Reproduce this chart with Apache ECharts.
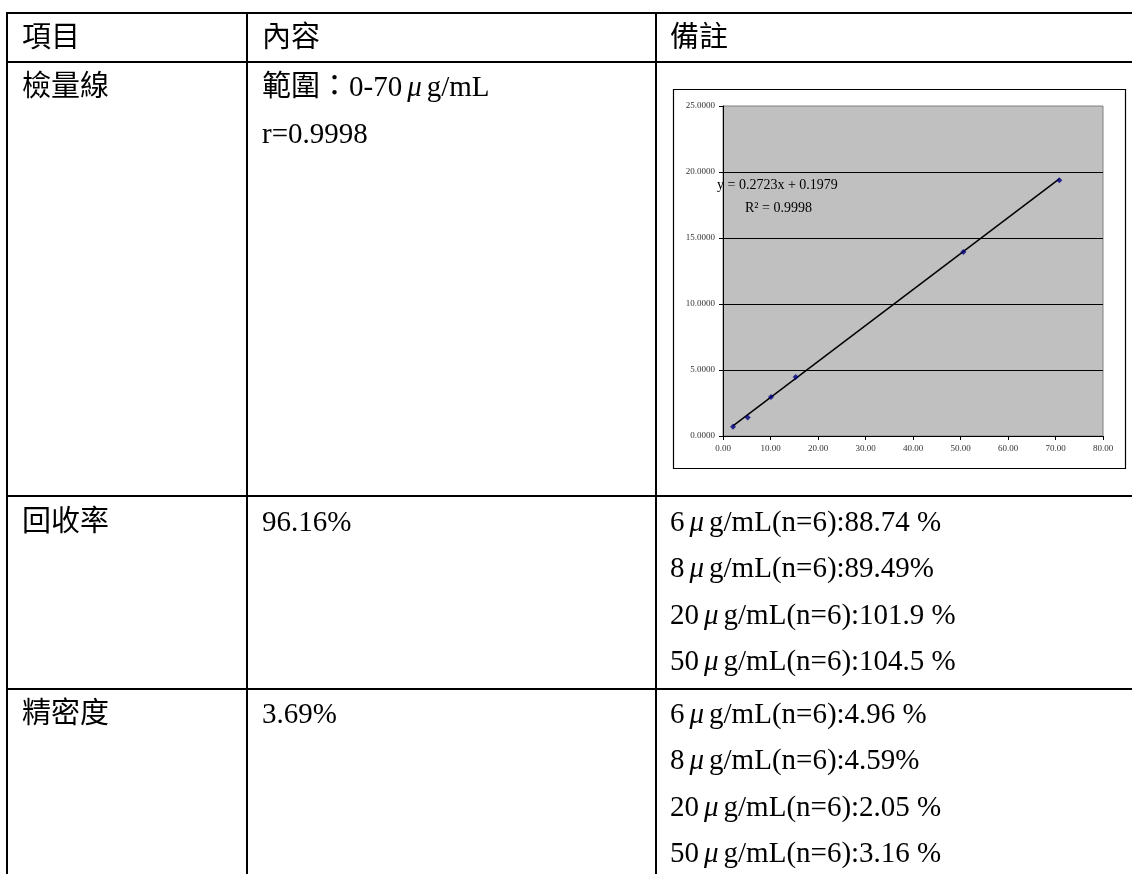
<!DOCTYPE html>
<html>
<head>
<meta charset="utf-8">
<script src="https://cdn.jsdelivr.net/npm/echarts@6/dist/echarts.min.js"></script>
<style>
html,body{margin:0;padding:0;background:#fff;}
#c{width:1132px;height:874px;}
</style>
</head>
<body>
<div id="c"></div>
<script>
// ---- table text ----
var headers = ['項目', '內容', '備註'];
var rowLabels = ['檢量線', '回收率', '精密度'];
var calibContent = ['範圍：0-70{m|μ}g/mL', 'r=0.9998'];
var recoveryContent = ['96.16%'];
var precisionContent = ['3.69%'];
var recoveryNotes = ['6{m|μ}g/mL(n=6):88.74 %', '8{m|μ}g/mL(n=6):89.49%', '20{m|μ}g/mL(n=6):101.9 %', '50{m|μ}g/mL(n=6):104.5 %'];
var precisionNotes = ['6{m|μ}g/mL(n=6):4.96 %', '8{m|μ}g/mL(n=6):4.59%', '20{m|μ}g/mL(n=6):2.05 %', '50{m|μ}g/mL(n=6):3.16 %'];

// ---- calibration chart data ----
var concX = [2.1, 5.2, 10.1, 15.3, 50.6, 70.8];
var respY = [0.70, 1.40, 2.95, 4.47, 13.94, 19.37];
var trendX = [2.1, 70.8];
var trendY = [0.77, 19.48];
var xTicks = [0, 10, 20, 30, 40, 50, 60, 70, 80];
var yTicks = [0, 5, 10, 15, 20, 25];
var equationText = 'y = 0.2723x + 0.1979';
var r2Text = 'R² = 0.9998';

var FONT = "'Liberation Serif', 'Noto Sans CJK TC', serif";
var FS = 29;
var rich = { m: { fontStyle: 'italic', fontFamily: FONT, fontSize: FS, padding: [0, 5, 0, 5], fill: '#000' } };

var graphics = [];
function hline(y) {
  graphics.push({ type: 'line', silent: true, shape: { x1: 6, y1: y, x2: 1132, y2: y }, style: { stroke: '#000', lineWidth: 2 } });
}
function vline(x) {
  graphics.push({ type: 'line', silent: true, shape: { x1: x, y1: 12, x2: x, y2: 874 }, style: { stroke: '#000', lineWidth: 2 } });
}
function txt(s, x, y) {
  graphics.push({ type: 'text', silent: true, x: x, y: y, style: { text: s, fill: '#000', fontSize: FS, fontFamily: FONT, verticalAlign: 'middle', align: 'left', rich: rich } });
}
[13, 62, 496, 689].forEach(hline);
[7, 247, 656].forEach(vline);

var colX = [22, 262, 670];
headers.forEach(function (h, i) { txt(h, colX[i], 39); });
txt(rowLabels[0], colX[0], 88);
calibContent.forEach(function (s, i) { txt(s, colX[1], 88 + i * 47); });
txt(rowLabels[1], colX[0], 523);
recoveryContent.forEach(function (s, i) { txt(s, colX[1], 523 + i * 46.5); });
recoveryNotes.forEach(function (s, i) { txt(s, colX[2], 523 + i * 46.5); });
txt(rowLabels[2], colX[0], 715);
precisionContent.forEach(function (s, i) { txt(s, colX[1], 715 + i * 46.5); });
precisionNotes.forEach(function (s, i) { txt(s, colX[2], 715 + i * 46.5); });

// chart frame
graphics.push({ type: 'rect', silent: true, z: -1, shape: { x: 673.5, y: 89.5, width: 452, height: 379 }, style: { fill: '#fff', stroke: '#000', lineWidth: 1.2 } });
// equation labels
graphics.push({ type: 'text', silent: true, z: 100, x: 717, y: 185, style: { text: equationText, fill: '#000', fontSize: 14, fontFamily: FONT, verticalAlign: 'middle' } });
graphics.push({ type: 'text', silent: true, z: 100, x: 745, y: 208, style: { text: r2Text, fill: '#000', fontSize: 14, fontFamily: FONT, verticalAlign: 'middle' } });

var chart = echarts.init(document.getElementById('c'), null, { renderer: 'canvas' });
chart.setOption({
  animation: false,
  backgroundColor: '#fff',
  graphic: graphics,
  grid: { left: 723, top: 106, width: 380, height: 330, show: true, backgroundColor: '#c0c0c0', borderColor: '#808080', borderWidth: 1, containLabel: false },
  xAxis: {
    type: 'value', min: xTicks[0], max: xTicks[xTicks.length - 1], interval: xTicks[1] - xTicks[0],
    axisLine: { show: true, onZero: false, lineStyle: { color: '#000', width: 1 } },
    axisTick: { show: true, length: 4, lineStyle: { color: '#000' } },
    axisLabel: { margin: 8, fontSize: 9, fontFamily: FONT, color: '#333', formatter: function (v) { return v.toFixed(2); } },
    splitLine: { show: false }
  },
  yAxis: {
    type: 'value', min: yTicks[0], max: yTicks[yTicks.length - 1], interval: yTicks[1] - yTicks[0],
    axisLine: { show: true, onZero: false, lineStyle: { color: '#000', width: 1 } },
    axisTick: { show: true, length: 4, lineStyle: { color: '#000' } },
    axisLabel: { margin: 8, fontSize: 9, fontFamily: FONT, color: '#333', formatter: function (v) { return v.toFixed(4); } },
    splitLine: { show: true, showMinLine: false, showMaxLine: false, lineStyle: { color: '#000', width: 1 } }
  },
  series: [
    {
      type: 'line', silent: true, showSymbol: false, symbol: 'none', z: 3,
      lineStyle: { color: '#000', width: 1.5 },
      data: trendX.map(function (x, i) { return [x, trendY[i]]; })
    },
    {
      type: 'scatter', silent: true, symbol: 'diamond', symbolSize: 6, z: 4,
      itemStyle: { color: '#000080' },
      data: concX.map(function (x, i) { return [x, respY[i]]; })
    }
  ]
});
</script>
</body>
</html>
